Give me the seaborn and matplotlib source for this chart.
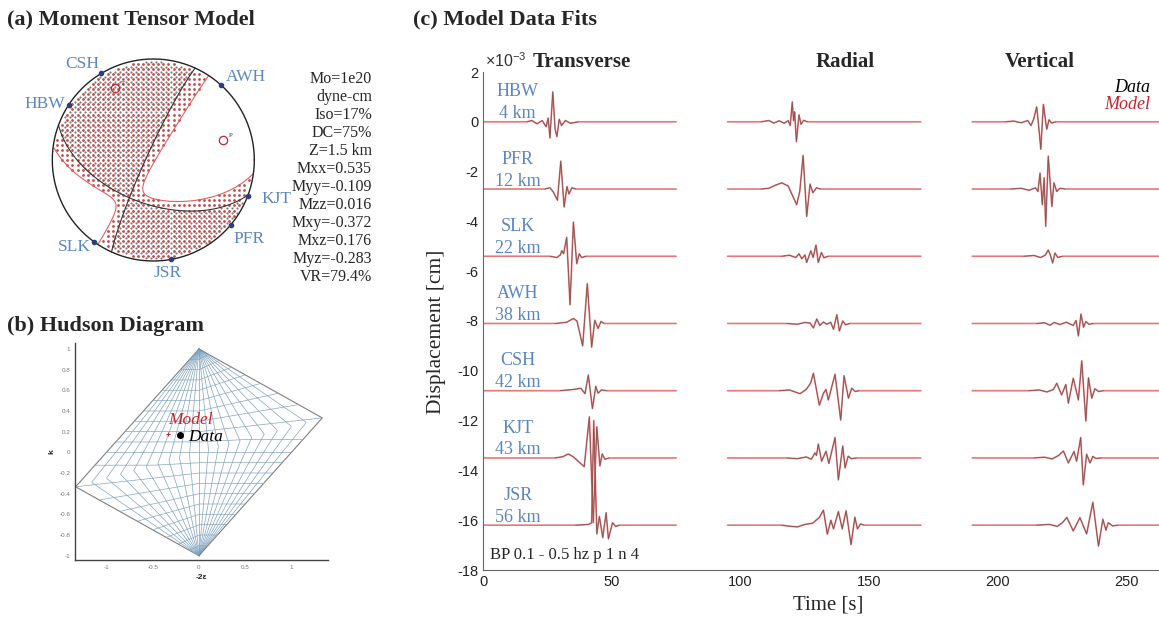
import numpy as np
import pandas as pd
import matplotlib
matplotlib.use("Agg")
import matplotlib.pyplot as plt
import seaborn as sns

sns.set_theme(style="white")
plt.rcParams["font.family"] = ["Liberation Serif", "DejaVu Serif"]
plt.rcParams["axes.unicode_minus"] = False
plt.rcParams["mathtext.fontset"] = "custom"
plt.rcParams["mathtext.rm"] = "Liberation Sans"

# -------------------
# Data
# -------------------
stations = ["HBW", "PFR", "SLK", "AWH", "CSH", "KJT", "JSR"]
distances_km = [4, 12, 22, 38, 42, 43, 56]
offsets = [0, -2.7, -5.4, -8.1, -10.8, -13.5, -16.2]   # trace baselines, x1e-3 cm
components = ["Transverse", "Radial", "Vertical"]
y_ticks = [2, 0, -2, -4, -6, -8, -10, -12, -14, -16, -18]   # x1e-3 cm
x_ticks = [0, 50, 100, 150, 200, 250]

# picked waveform points: (time [s], amplitude [1e-3 cm] relative to baseline)
HBW_T = [(0, 0), (17, 0), (19, 0.05), (21, -0.08), (23, 0.05), (24.5, -0.2), (25.3, 0.15), (26.0, -0.65),
         (27.1, 1.2), (28.0, -0.3), (28.7, -0.6), (29.6, 0.1), (30.5, -0.15), (32, 0.05), (34, -0.06), (37, 0), (75, 0)]
PFR_T = [(0, 0), (24, 0), (26, 0.05), (27.3, -0.12), (28.9, -0.45), (30.2, 1.12), (31.5, -0.72), (32.6, 0.1),
         (33.4, -0.2), (34.5, 0.05), (36, 0), (75, 0)]
SLK_T = [(0, 0), (26, 0), (28.6, -0.05), (30.0, 0.05), (30.6, 0.22), (31.3, 0.1), (32.5, 0.76), (33.8, -1.95),
         (35.1, 1.37), (36.4, -0.3), (37.4, 0.1), (38.3, -0.05), (40, 0), (75, 0)]
AWH_T = [(0, 0), (28, 0), (32.5, 0.05), (35.1, 0.2), (36.5, 0.1), (38.7, -0.9), (40.5, 1.6), (42.2, -0.95),
         (43.4, 0.13), (44.7, -0.2), (45.8, 0.08), (47, 0), (75, 0)]
CSH_T = [(0, 0), (30, 0), (35, 0.05), (38, 0.1), (39.6, -0.12), (40.9, 0.63), (42.5, -0.72), (43.8, 0.18),
         (44.7, -0.1), (46, 0.03), (48, 0), (75, 0)]
KJT_T = [(0, 0), (28, 0), (31, 0.05), (33.1, 0.16), (35, 0.05), (39.3, -0.35), (41.3, 1.65), (42.8, -2.6),
         (44.2, 1.25), (45.4, -0.32), (46.3, 0.16), (47.3, -0.05), (49, 0), (75, 0)]
JSR_T = [(0, 0), (36, 0), (41, 0.03), (42.2, 0.1), (43.0, 4.2), (44.2, -0.35), (45.2, 0.35), (46.5, -0.5),
         (47.8, 0.5), (48.7, -0.55), (50.3, 0.1), (51.5, -0.05), (53, 0), (75, 0)]

HBW_R = [(95, 0), (108, 0), (111, 0.05), (113, -0.05), (115, 0.04), (117, -0.06), (118.5, 0.05), (119.3, -0.15),
         (120.1, 0.8), (120.6, 0.05), (121.0, 0.4), (121.7, -0.8), (122.7, 0.28), (123.5, -0.1), (124.5, 0.06),
         (126, 0), (170, 0)]
PFR_R = [(95, 0), (108, 0), (111, 0.03), (113.5, 0.15), (116, 0.25), (118.5, 0.12), (121.8, -0.63), (123.0, -0.1),
         (124.3, 1.35), (125.7, -1.1), (127.0, 0.2), (128.1, -0.15), (129.5, 0.05), (131, 0), (170, 0)]
SLK_R = [(95, 0), (116, 0), (119, 0.04), (121.5, -0.05), (122.7, 0.1), (123.8, -0.1), (125, 0.05), (125.7, -0.25),
         (127.3, 0.22), (128.2, -0.05), (129.3, 0.45), (130.2, -0.25), (131.4, 0.15), (132.4, -0.06), (134, 0), (170, 0)]
AWH_R = [(95, 0), (118, 0), (122, -0.03), (125, 0.04), (127, 0.02), (128.3, -0.18), (129.6, 0.18), (130.8, -0.08),
         (132.2, 0.06), (133.5, -0.03), (135, 0.05), (136.1, -0.23), (137.4, 0.35), (138.4, -0.3), (139.7, 0.1),
         (140.8, -0.05), (142.5, 0), (170, 0)]
CSH_R = [(95, 0), (115, 0), (119, 0.03), (123.1, -0.12), (125.5, 0.05), (127.2, 0.3), (128.3, 0.7), (130.6, -0.58),
         (132.2, -0.1), (133.2, 0.05), (134.1, -0.37), (136.7, 0.66), (138.9, -1.18), (140.2, 0.6), (141.9, -0.3),
         (143.2, 0.1), (144.5, -0.03), (146, 0), (170, 0)]
KJT_R = [(95, 0), (118, 0), (122, -0.03), (125.5, 0.04), (127.5, -0.05), (128.9, 0.2), (129.5, 0.1), (130.2, 0.56),
         (131.5, -0.13), (133.2, 0.27), (134.3, -0.22), (136.7, 0.82), (138.0, -0.88), (139.7, 0.48), (140.6, -0.4),
         (141.8, 0.07), (143, -0.03), (145, 0), (170, 0)]
JSR_R = [(95, 0), (116, 0), (119, -0.04), (122, -0.07), (125, 0.03), (128, 0.08), (130.5, 0.3), (132.2, 0.6),
         (133.7, -0.36), (135.1, 0.2), (136.1, -0.15), (138.0, 0.55), (139.5, -0.15), (141.0, 0.58), (142.9, -0.78),
         (144.4, 0.32), (145.4, -0.15), (146.6, 0.05), (148, 0), (170, 0)]

HBW_Z = [(190, 0), (203, 0), (206, 0.03), (209, -0.04), (211.5, 0.05), (212.8, -0.15), (213.8, 0.1), (215.0, 0.6),
         (215.8, -0.2), (216.6, -1.1), (217.6, 0.7), (218.9, -0.3), (219.8, 0.08), (220.8, -0.05), (222.5, 0), (263, 0)]
PFR_Z = [(190, 0), (205, 0), (209, 0.03), (212, -0.05), (214.5, 0.05), (215.5, -0.1), (216.3, 0.64), (217.2, -0.63),
         (217.9, 0.45), (218.5, -1.5), (219.5, 1.32), (220.9, -0.7), (221.7, 0.25), (222.8, -0.1), (224, 0.03),
         (226, 0), (263, 0)]
SLK_Z = [(190, 0), (210, 0), (214, 0.03), (216.5, -0.05), (218.3, 0.04), (219.5, 0.25), (220.3, 0.05), (221.2, -0.27),
         (222.1, 0.13), (223.2, -0.05), (225, 0), (263, 0)]
AWH_Z = [(190, 0), (215, 0), (218, 0.03), (220.2, -0.07), (221.8, 0.04), (224, -0.04), (226.5, 0.05), (229.2, -0.08),
         (230.3, 0.12), (231.2, -0.5), (232.2, 0.38), (233.2, -0.15), (234.1, 0.08), (235.3, -0.03), (237, 0), (263, 0)]
CSH_Z = [(190, 0), (212, 0), (216, 0.03), (219, -0.05), (221.5, 0.05), (222.8, 0.3), (224.7, -0.17), (226.3, 0.25),
         (227.3, -0.5), (229.2, 0.5), (231.2, -0.37), (232.5, 1.2), (234.1, -1.22), (235.1, 0.52), (236.4, -0.3),
         (237.6, 0.08), (239, -0.03), (241, 0), (263, 0)]
KJT_Z = [(190, 0), (214, 0), (218, 0.03), (221, -0.04), (223.5, 0.1), (225.4, 0.28), (227.3, -0.2), (229.5, 0.26),
         (230.5, -0.13), (232.1, 0.82), (233.1, -1.08), (234.4, 0.15), (235.7, -0.2), (236.8, 0.06), (238, -0.02),
         (240, 0), (263, 0)]
JSR_Z = [(190, 0), (215, 0), (220, 0.03), (223, -0.05), (225, 0.1), (226.7, 0.31), (229.2, -0.23), (231.8, 0.3),
         (234.4, -0.35), (236.8, 0.92), (239.0, -0.84), (240.7, 0.24), (241.9, -0.2), (242.8, 0.1), (244.5, -0.03),
         (246.5, 0), (263, 0)]

traces = {
    "Transverse": [HBW_T, PFR_T, SLK_T, AWH_T, CSH_T, KJT_T, JSR_T],
    "Radial": [HBW_R, PFR_R, SLK_R, AWH_R, CSH_R, KJT_R, JSR_R],
    "Vertical": [HBW_Z, PFR_Z, SLK_Z, AWH_Z, CSH_Z, KJT_Z, JSR_Z],
}

# moment tensor solution (panel a)
mt_names = ["Mxx", "Myy", "Mzz", "Mxy", "Mxz", "Myz"]
mt_values = [0.535, -0.109, 0.016, -0.372, 0.176, -0.283]
summary = ["Mo=1e20", "dyne-cm", "Iso=17%", "DC=75%", "Z=1.5 km"]
var_red = "VR=79.4%"
# station azimuths on the focal sphere (deg from north)
bb_stations = ["CSH", "HBW", "AWH", "KJT", "PFR", "JSR", "SLK"]
bb_azimuth = [329, 303, 42, 111, 130, 170, 216]

# Hudson diagram points (-2eps, k)
hudson_data = (-0.21, 0.17)
hudson_model = (-0.33, 0.18)

# -------------------
# Figure
# -------------------
fig = plt.figure(figsize=(11.59, 6.40), dpi=100)
blue = "#5b86bf"
red = "#e06060"
sans = ["Liberation Sans", "DejaVu Sans"]

fig.text(0.006, 0.969, "(a) Moment Tensor Model", fontsize=16, fontweight="bold", va="center")
fig.text(0.006, 0.491, "(b) Hudson Diagram", fontsize=16, fontweight="bold", va="center")
fig.text(0.356, 0.969, "(c) Model Data Fits", fontsize=16, fontweight="bold", va="center")

# ---- (c) waveform fits ----
ax = fig.add_axes([483 / 1159, 70 / 640, 676 / 1159, 498 / 640])
for comp in components:
    for trace, off in zip(traces[comp], offsets):
        df = pd.DataFrame(trace, columns=["t", "amp"])
        df["disp"] = (df["amp"] + off) * 1e-3
        # model (red) underneath, data (dark) on top
        sns.lineplot(data=df, x="t", y="disp", ax=ax, color=red, lw=1.2,
                     estimator=None, sort=False, alpha=0.85)
        sns.lineplot(data=df.iloc[1:-1], x="t", y="disp", ax=ax, color="#3a3a3a", lw=0.55,
                     estimator=None, sort=False, alpha=0.6)

for name, dist, off in zip(stations, distances_km, offsets):
    ax.text(13.5, (off + 1.2) * 1e-3, name, color=blue, fontsize=13, ha="center", va="center")
    ax.text(13.5, (off + 0.32) * 1e-3, f"{dist} km", color=blue, fontsize=13, ha="center", va="center")

ax.text(2.7, -17.4e-3, "BP 0.1 - 0.5 hz p 1 n 4", fontsize=12, va="center")
ax.text(259, 1.37e-3, "Data", fontsize=13, style="italic", ha="right", va="center", color="black")
ax.text(259, 0.68e-3, "Model", fontsize=13, style="italic", ha="right", va="center", color="#c0272d")

ax.set_xlim(0, 262.5)
ax.set_ylim(-18e-3, 2e-3)
ax.set_xticks(x_ticks)
ax.set_xticklabels([str(t) for t in x_ticks], family=sans)
ax.set_yticks([yt * 1e-3 for yt in y_ticks])
ax.set_yticklabels([str(yt) for yt in y_ticks], family=sans)
ax.text(0.003, 1.003, r"$\times10^{-3}$", transform=ax.transAxes, fontsize=11.5,
        ha="left", va="bottom", color="#333333")
ax.set_xlabel("")
ax.set_ylabel("")
for side in ["top", "right"]:
    ax.spines[side].set_visible(False)
for side in ["left", "bottom"]:
    ax.spines[side].set_color("#666666")
    ax.spines[side].set_linewidth(0.8)
ax.tick_params(direction="in", length=4, width=0.7, colors="#666666", labelcolor="#222222", labelsize=10.5)

for comp, xc in zip(components, [582, 845, 1040]):
    fig.text(xc / 1159, 1 - 62 / 640, comp, fontsize=15, fontweight="bold", ha="center", va="center")
fig.text(436 / 1159, 1 - 332 / 640, "Displacement [cm]", fontsize=15.5, rotation=90, ha="center", va="center")
fig.text(828 / 1159, 1 - 605 / 640, "Time [s]", fontsize=15, ha="center", va="center")

# ---- (a) beach ball ----
M = np.array([[mt_values[0], mt_values[3], mt_values[4]],
              [mt_values[3], mt_values[1], mt_values[5]],
              [mt_values[4], mt_values[5], mt_values[2]]])
w, v = np.linalg.eigh(M - np.trace(M) / 3 * np.eye(3))
P_ax, T_ax = v[:, 0], v[:, 2]
DC = np.outer(T_ax, T_ax) - np.outer(P_ax, P_ax)


def to_ray(X, Y):
    r = np.hypot(X, Y)
    inc = 2 * np.arcsin(np.clip(r / np.sqrt(2), 0, 1))
    az = np.arctan2(X, Y)
    return np.stack([np.sin(inc) * np.cos(az), np.sin(inc) * np.sin(az), np.cos(inc)], axis=-1)


def radiation(X, Y, mt):
    g = to_ray(X, Y)
    return np.einsum("...i,ij,...j->...", g, mt, g)


def project(g):
    g = np.atleast_2d(g).copy()
    g[g[:, 2] < 0] *= -1
    inc = np.arccos(np.clip(g[:, 2], -1, 1))
    az = np.arctan2(g[:, 1], g[:, 0])
    r = np.sqrt(2) * np.sin(inc / 2)
    return r * np.sin(az), r * np.cos(az)


def great_circle(n):
    a = np.cross(n, [0, 0, 1.0])
    a /= np.linalg.norm(a)
    b = np.cross(n, a)
    if b[2] < 0:
        b = -b
    th = np.linspace(0, np.pi, 181)
    return project(np.outer(np.cos(th), a) + np.outer(np.sin(th), b))


bax = fig.add_axes([(153.3 - 110) / 1159, 1 - 270 / 640, 220 / 1159, 220 / 640])
step = 0.05
g1 = np.arange(-1, 1 + step / 2, step)
GX, GY = np.meshgrid(g1, g1)
inside = np.hypot(GX, GY) < 0.98
pos_red = inside & (radiation(GX, GY, M) > 0)
GX2, GY2 = GX + step / 2, GY + step / 2
inside2 = np.hypot(GX2, GY2) < 0.98
pos_gray = inside2 & (radiation(GX2, GY2, DC) > 0)
sns.scatterplot(x=GX2[pos_gray], y=GY2[pos_gray], ax=bax, s=2.5, color="#5a5a5a", linewidth=0, alpha=0.8)
sns.scatterplot(x=GX[pos_red], y=GY[pos_red], ax=bax, s=4, color="#c44a4a", linewidth=0)

fine = np.linspace(-1, 1, 301)
FX, FY = np.meshgrid(fine, fine)
FF = radiation(FX, FY, M)
FF[np.hypot(FX, FY) > 1] = np.nan
bax.contour(FX, FY, FF, levels=[0], colors=[red], linewidths=0.8)
for n in [(T_ax + P_ax) / np.sqrt(2), (T_ax - P_ax) / np.sqrt(2)]:
    gx, gy = great_circle(n)
    bax.plot(gx, gy, color="#333333", lw=0.8)

th = np.linspace(0, 2 * np.pi, 361)
bax.plot(np.cos(th), np.sin(th), color="#222222", lw=1.0)

for vec, lab in [(P_ax, "P"), (T_ax, "T")]:
    px, py = project(vec)
    bax.plot(px, py, "o", mfc="none", mec="#c0272d", ms=6, mew=0.9)
    bax.text(px[0] + 0.06, py[0] + 0.03, lab, fontsize=5, color="#333333")

label_shift = {"CSH": (-14, 7), "HBW": (-17, 1), "AWH": (18, 6), "KJT": (21, -2),
               "PFR": (13, -10), "JSR": (-2, -10), "SLK": (-14, -4)}
for name, az in zip(bb_stations, bb_azimuth):
    sx, sy = np.sin(np.radians(az)), np.cos(np.radians(az))
    bax.plot(sx, sy, "o", color="#2c3e80", ms=3)
    bax.annotate(name, (sx, sy), xytext=label_shift[name], textcoords="offset points",
                 ha="center", va="center", color=blue, fontsize=12.5)

bax.set_xlim(-1.089, 1.089)
bax.set_ylim(-1.089, 1.089)
bax.set_aspect("equal")
bax.axis("off")

lines = summary + [f"{n}={val:.3f}" for n, val in zip(mt_names, mt_values)] + [var_red]
for i, line in enumerate(lines):
    fig.text(372 / 1159, 1 - (79 + 18 * i) / 640, line, fontsize=11.5, ha="right", va="center")

# ---- (b) Hudson diagram ----
hax = fig.add_axes([75 / 1159, 80 / 640, 253 / 1159, 217 / 640])


def hudson_uv(T, k):
    tau = T * (1 - np.abs(k))
    sgn = np.where((tau < 0) & (k < 0), -1.0, 1.0)
    ta, ka = tau * sgn, k * sgn
    quad = (ta > 0) & (ka > 0)
    regA = ta <= 4 * ka
    with np.errstate(divide="ignore", invalid="ignore"):
        uA, vA = ta / (1 - ta / 2), ka / (1 - ta / 2)
        uB, vB = ta / (1 - 2 * ka), ka / (1 - 2 * ka)
    u = np.where(quad, np.where(regA, uA, uB), ta)
    vv = np.where(quad, np.where(regA, vA, vB), ka)
    return u * sgn, vv * sgn


levels = np.round(np.linspace(-1, 1, 21), 2)
dense = np.linspace(-1, 1, 401)
for T in levels:
    u, vv = hudson_uv(np.full_like(dense, T), dense)
    edge = abs(T) == 1
    hax.plot(u, vv, color="#808080" if edge else "#7fa3c2", lw=0.8 if edge else 0.5)
for k in levels[1:-1]:
    u, vv = hudson_uv(dense, np.full_like(dense, k))
    hax.plot(u, vv, color="#8aa6bd", lw=0.5)

hax.plot(*hudson_model, "+", color="#c0272d", ms=3, mew=0.8)
hax.plot(*hudson_data, "o", color="black", ms=4)
hax.text(-0.335, 0.31, "Model", color="#c0272d", fontsize=12.5, style="italic", va="center")
hax.text(-0.12, 0.15, "Data", color="black", fontsize=12.5, style="italic", va="center")

hax.set_xlim(-1.34, 1.395)
hax.set_ylim(-1.042, 1.058)
hax.set_xticks([-1, -0.5, 0, 0.5, 1])
hax.set_yticks(np.round(np.arange(-1, 1.01, 0.2), 1))
hax.set_xticklabels(["-1", "-0.5", "0", "0.5", "1"], family=sans)
hax.set_yticklabels(["-1", "-0.8", "-0.6", "-0.4", "-0.2", "0", "0.2", "0.4", "0.6", "0.8", "1"], family=sans)
for side in ["top", "right"]:
    hax.spines[side].set_visible(False)
for side in ["left", "bottom"]:
    hax.spines[side].set_color("#444444")
    hax.spines[side].set_linewidth(1.0)
hax.tick_params(direction="in", length=3, width=0.8, colors="#444444", labelcolor="#777777", labelsize=4.5)
hax.set_xlabel("-2ε", fontsize=6, fontweight="bold", family=sans, labelpad=3)
hax.set_ylabel("k", fontsize=6, fontweight="bold", family=sans, labelpad=3)

fig.savefig("out.png", dpi=100)
